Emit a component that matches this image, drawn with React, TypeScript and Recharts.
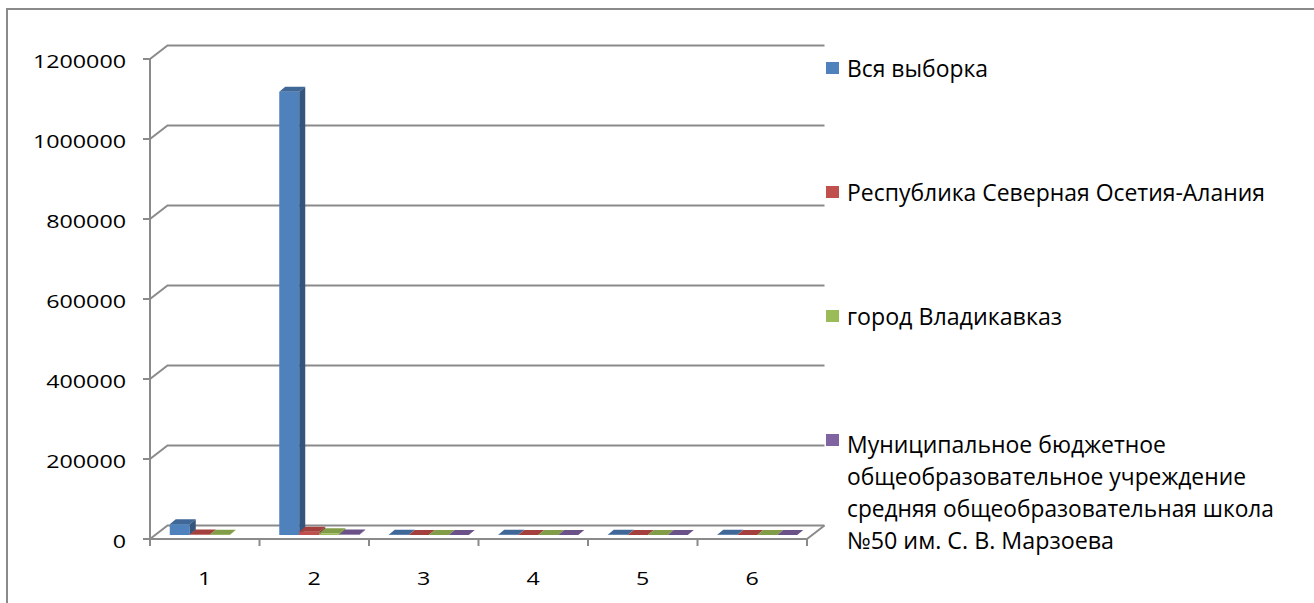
import React from "react"
import { BarChart, Bar, XAxis, YAxis, CartesianGrid } from "recharts"

const CATEGORIES = ["1", "2", "3", "4", "5", "6"]
const ALL_SAMPLE = [27000, 1108000, 900, 700, 500, 600]
const REGION = [1200, 8300, 120, 100, 90, 110]
const CITY = [800, 4200, 80, 60, 70, 60]
const SCHOOL = [null, 1000, 20, 15, 18, 12]
const Y_TICKS = [0, 200000, 400000, 600000, 800000, 1000000, 1200000]

const SERIES = [
  { key: "all", values: ALL_SAMPLE, lines: ["Вся выборка"], color: "#4f81bd", top: "#3f6797", side: "#35557c" },
  { key: "region", values: REGION, lines: ["Республика Северная Осетия-Алания"], color: "#c0504d", top: "#a3403d", side: "#8c3836" },
  { key: "city", values: CITY, lines: ["город Владикавказ"], color: "#9bbb59", top: "#819d48", side: "#6e8a3b" },
  {
    key: "school",
    values: SCHOOL,
    lines: [
      "Муниципальное бюджетное",
      "общеобразовательное учреждение",
      "средняя общеобразовательная школа",
      "№50 им. С. В. Марзоева",
    ],
    color: "#8064a2",
    top: "#6a5288",
    side: "#5a4573",
  },
]

const data = CATEGORIES.map((cat, i) => {
  const row: any = { cat }
  SERIES.forEach((s) => (row[s.key] = s.values[i]))
  return row
})

// layout / styling
const GRAY = "#8a8a8a"
const FONT = "'Open Sans', 'Noto Sans', sans-serif"
const WALL_DX = 17.5
const WALL_DY = 13.5
const SHIFT_X = 5
const SHIFT_Y = 4
const DEPTH_X = 6
const DEPTH_Y = 5
const LEGEND_WIDTHS = [[141], [418], [215], [319, 399, 427, 267]]

const makeShape = (s: (typeof SERIES)[number]) => (p: any) => {
  if (p.payload == null || p.payload[s.key] == null) return <g />
  const fx = p.x + SHIFT_X
  const fy = p.y - SHIFT_Y
  const w = p.width
  const h = Math.max(p.height, 0)
  const bottom = fy + h
  return (
    <g>
      <rect x={fx} y={fy} width={w} height={h} fill={s.color} />
      <polygon
        points={`${fx},${fy} ${fx + DEPTH_X},${fy - DEPTH_Y} ${fx + w + DEPTH_X},${fy - DEPTH_Y} ${fx + w},${fy}`}
        fill={s.top}
      />
      <polygon
        points={`${fx + w},${fy} ${fx + w + DEPTH_X},${fy - DEPTH_Y} ${fx + w + DEPTH_X},${bottom - DEPTH_Y} ${fx + w},${bottom}`}
        fill={s.side}
      />
    </g>
  )
}

const YTick = (props: any) => {
  const { x, y, payload } = props
  const label = String(payload.value)
  return (
    <text
      x={x - 17}
      y={y + 9}
      textAnchor="end"
      fontSize={19}
      fontFamily={FONT}
      fill="#000"
      textLength={label.length * 13.3}
      lengthAdjust="spacingAndGlyphs"
    >
      {label}
    </text>
  )
}

const XTick = (props: any) => {
  const { x, y, payload } = props
  const half = payload.offset
  const axisY = y - 7
  const isLast = payload.value === CATEGORIES[CATEGORIES.length - 1]
  return (
    <g>
      <line x1={x - half} y1={axisY} x2={x - half} y2={y} stroke={GRAY} strokeWidth={2} />
      {isLast && (
        <>
          <line x1={x + half} y1={axisY} x2={x + half} y2={y} stroke={GRAY} strokeWidth={2} />
          <line x1={x + half} y1={axisY} x2={x + half + WALL_DX} y2={axisY - WALL_DY} stroke={GRAY} strokeWidth={2} />
        </>
      )}
      <text
        x={x}
        y={y + 39}
        textAnchor="middle"
        fontSize={19}
        fontFamily={FONT}
        fill="#000"
        textLength={13.3}
        lengthAdjust="spacingAndGlyphs"
      >
        {payload.value}
      </text>
    </g>
  )
}

const gridLine = (p: any) => (
  <path
    key={p.key}
    d={`M${p.x1},${p.y1} L${p.x1 + WALL_DX},${p.y1 - WALL_DY} L${p.x2 + WALL_DX},${p.y1 - WALL_DY}`}
    stroke={GRAY}
    strokeWidth={2}
    fill="none"
  />
)

function Legend3D() {
  return (
    <svg width={1314} height={603} style={{ position: "absolute", left: 0, top: 0, pointerEvents: "none" }}>
      {SERIES.map((s, i) => {
        const cy = 68 + i * 124
        return (
          <g key={s.key}>
            <rect x={826} y={cy - 6} width={13} height={12} fill={s.color} />
            {s.lines.map((line, j) => (
              <text
                key={j}
                x={847}
                y={cy + 8.5 + (i === 3 ? 4 : 0) + j * 32}
                fontSize={23.5}
                fontFamily={FONT}
                fill="#000"
                textLength={LEGEND_WIDTHS[i][j]}
                lengthAdjust="spacingAndGlyphs"
              >
                {line}
              </text>
            ))}
          </g>
        )
      })}
    </svg>
  )
}

export default function App() {
  return (
    <>
      <style>{`html,body{margin:0;padding:0;overflow:hidden;background:#fff}`}</style>
      <div
        style={{
          position: "absolute",
          left: 6,
          top: 8,
          width: 1330,
          height: 620,
          border: `2px solid ${GRAY}`,
          boxSizing: "border-box",
        }}
      />
      <div style={{ position: "absolute", left: 0, top: 0 }}>
        <BarChart
          width={1314}
          height={603}
          data={data}
          margin={{ top: 59, right: 507, bottom: 24, left: 10 }}
          barCategoryGap={14.75}
          barGap={0}
        >
          <CartesianGrid vertical={false} horizontal={gridLine} />
          <XAxis
            dataKey="cat"
            height={40}
            tickLine={false}
            tickSize={7}
            tickMargin={0}
            axisLine={{ stroke: GRAY, strokeWidth: 2 }}
            tick={<XTick />}
            interval={0}
          />
          <YAxis
            width={140}
            domain={[0, 1200000]}
            ticks={Y_TICKS}
            interval={0}
            tickSize={7}
            tickMargin={0}
            axisLine={{ stroke: GRAY, strokeWidth: 2 }}
            tickLine={{ stroke: GRAY, strokeWidth: 2 }}
            tick={<YTick />}
          />
          {SERIES.map((s) => (
            <Bar key={s.key} dataKey={s.key} fill={s.color} shape={makeShape(s)} isAnimationActive={false} />
          ))}
        </BarChart>
      </div>
      <Legend3D />
    </>
  )
}
